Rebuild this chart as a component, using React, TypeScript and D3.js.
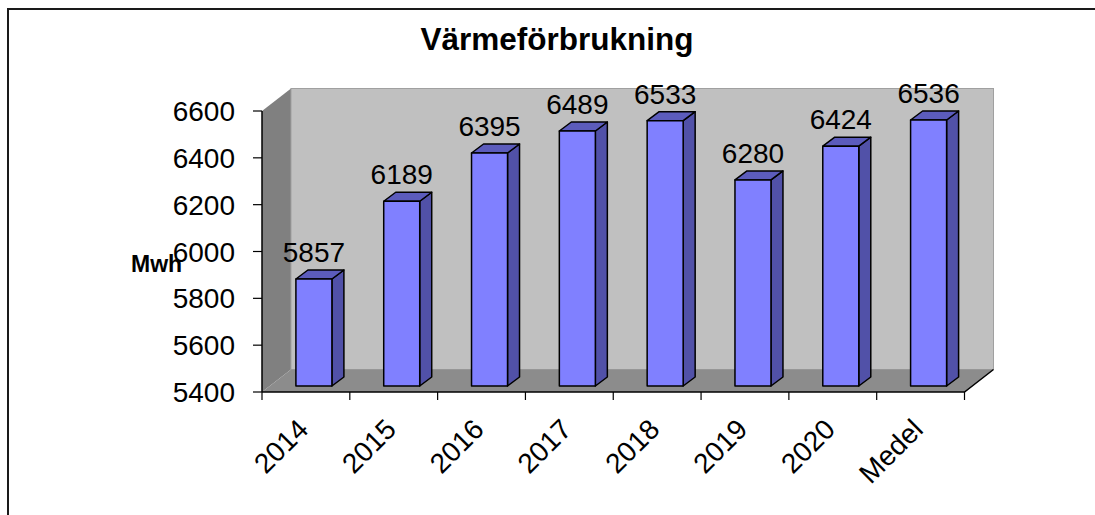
import * as d3 from "d3";

const categories = ["2014", "2015", "2016", "2017", "2018", "2019", "2020", "Medel"];
const values = [5857, 6189, 6395, 6489, 6533, 6280, 6424, 6536];
const yTicks = [5400, 5600, 5800, 6000, 6200, 6400, 6600];

const W = 1095;
const H = 515;

// front plane of the 3D plot
const left = 262;
const right = 964.5;
const top = 111;
const bottom = 392;

// depth of walls and bars
const depthX = 29;
const depthY = -22.5;
const barShiftX = 8;
const barShiftY = -6;
const barDX = 12;
const barDY = -9;

const font = "Arial, 'Liberation Sans', sans-serif";

export default function App() {
    const x = d3.scaleBand().domain(categories).range([left, right]);
    const y = d3.scaleLinear().domain([5400, 6600]).range([bottom, top]);
    const bw = x.bandwidth() * 0.41;

    const pts = (p: [number, number][]) => p.map(d => d.join(",")).join(" ");

    return (
        <svg width={W} height={H} style={{ position: "absolute", left: 0, top: 0, fontFamily: font }}>
            <rect x={0} y={0} width={W} height={H} fill="#fff" />
            <rect x={8} y={9} width={W + 20} height={H + 20} fill="none" stroke="#1a1a1a" strokeWidth={2} />

            {/* side wall */}
            <polygon
                points={pts([[left, top], [left + depthX, top + depthY], [left + depthX, bottom + depthY], [left, bottom]])}
                fill="#808080"
            />
            {/* back wall */}
            <rect
                x={left + depthX}
                y={top + depthY}
                width={right - left}
                height={bottom - top}
                fill="#c0c0c0"
                stroke="#a0a0a0"
                strokeWidth={1}
            />
            {/* floor */}
            <polygon
                points={pts([[left, bottom], [right, bottom], [right + depthX, bottom + depthY], [left + depthX, bottom + depthY]])}
                fill="#8c8c8c"
            />

            {/* axes */}
            <line x1={left} x2={left} y1={top} y2={bottom} stroke="#000" strokeWidth={1.5} />
            <polyline
                points={pts([[left, bottom], [right, bottom], [right + depthX, bottom + depthY]])}
                fill="none"
                stroke="#000"
                strokeWidth={1.5}
            />
            {yTicks.map(t => (
                <g key={t}>
                    <line x1={left - 9} x2={left} y1={y(t)} y2={y(t)} stroke="#000" strokeWidth={1.2} />
                    <text x={235} y={y(t) + 10} textAnchor="end" fontSize={28}>{t}</text>
                </g>
            ))}
            {categories.map(c => (
                <line key={c} x1={x(c)!} x2={x(c)!} y1={bottom} y2={bottom + 8} stroke="#000" strokeWidth={1.2} />
            ))}
            <line x1={right} x2={right} y1={bottom} y2={bottom + 8} stroke="#000" strokeWidth={1.2} />
            {categories.map(c => {
                const cx = x(c)! + x.bandwidth() / 2 + 4;
                return (
                    <text key={c} x={cx} y={431} textAnchor="end" fontSize={28} transform={`rotate(-45, ${cx}, 431)`}>
                        {c}
                    </text>
                );
            })}

            {/* bars */}
            {categories.map((c, i) => {
                const x0 = x(c)! + (x.bandwidth() - bw) / 2 + barShiftX;
                const y0 = y(5400) + barShiftY;
                const y1 = y(values[i]) + barShiftY;
                return (
                    <g key={c} stroke="#000" strokeWidth={1.5} strokeLinejoin="round">
                        <polygon
                            points={pts([[x0 + bw, y1], [x0 + bw + barDX, y1 + barDY], [x0 + bw + barDX, y0 + barDY], [x0 + bw, y0]])}
                            fill="#5151a8"
                        />
                        <polygon
                            points={pts([[x0, y1], [x0 + barDX, y1 + barDY], [x0 + bw + barDX, y1 + barDY], [x0 + bw, y1]])}
                            fill="#5c5cbc"
                        />
                        <rect x={x0} y={y1} width={bw} height={y0 - y1} fill="#8080ff" />
                        <text
                            x={x0 + bw / 2}
                            y={y1 + barDY - 8}
                            textAnchor="middle"
                            fontSize={28}
                            stroke="none"
                            fill="#000"
                        >
                            {values[i]}
                        </text>
                    </g>
                );
            })}

            <text x={557} y={50} textAnchor="middle" fontSize={31.5} fontWeight="bold">Värmeförbrukning</text>
            <text x={131} y={272} fontSize={23} fontWeight="bold">Mwh</text>
        </svg>
    );
}
